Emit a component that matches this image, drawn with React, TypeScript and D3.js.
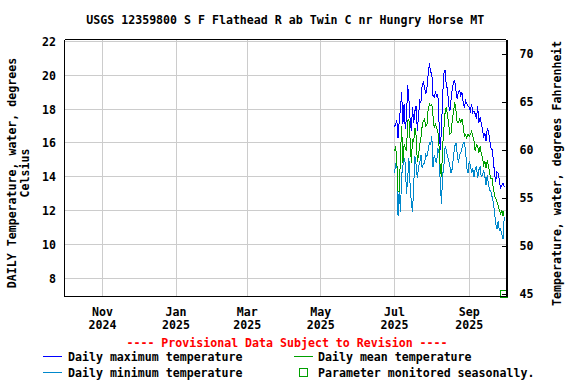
import React from "react";
import * as d3 from "d3";

// Chart text
const title = "USGS 12359800 S F Flathead R ab Twin C nr Hungry Horse MT";
const provisionalNote = "---- Provisional Data Subject to Revision ----";
const leftAxisTitle = ["DAILY Temperature, water, degrees", "Celsius"];
const rightAxisTitle = "Temperature, water, degrees Fahrenheit";

// Daily values, one per day starting Jul 1 2025 (deg C)
const firstDay = new Date(2025, 6, 1);

const dailyMax = [
  16.95, 17.1, 17.35, 16.3, 17.3, 18.0, 19.0, 17.1, 18.3, 16.8,
  17.5, 19.4, 18.6, 17.4, 16.7, 18.1, 17.2, 17.9, 18.2, 16.7,
  17.6, 18.5, 18.4, 19.4, 19.6, 19.3, 18.9, 19.3, 20.1, 20.7,
  20.2, 20.1, 18.8, 18.7, 19.0, 18.8, 18.9, 17.2, 15.6, 16.8,
  18.8, 20.1, 20.3, 19.4, 19.2, 18.2, 17.9, 18.6, 19.2, 19.6,
  19.7, 19.1, 18.6, 19.0, 19.1, 18.8, 19.0, 18.4, 18.1, 18.5,
  18.3, 18.2, 18.1, 17.9, 18.3, 17.8, 17.9, 17.7, 17.4, 18.2,
  17.2, 17.5, 17.2, 16.8, 16.3, 16.6, 16.1, 16.9, 16.7, 16.2,
  15.7, 15.6, 15.0, 14.2, 13.7, 14.3, 14.2, 13.8, 13.3, 13.5,
  13.6, 13.4,
];

const dailyMean = [
  15.5, 15.8, 14.9, 13.1, 13.1, 15.2, 17.0, 14.8, 15.9, 15.7,
  15.5, 17.3, 17.4, 16.2, 14.8, 16.2, 16.1, 16.9, 16.4, 14.9,
  15.3, 15.9, 16.3, 17.0, 17.3, 17.4, 17.0, 17.1, 18.0, 18.3,
  18.2, 18.3, 17.6, 16.9, 17.1, 16.9, 16.7, 15.8, 14.5, 14.0,
  15.8, 16.8, 17.8, 18.1, 17.6, 17.1, 16.5, 16.6, 17.4, 17.8,
  18.4, 17.9, 17.2, 17.2, 17.4, 17.2, 17.4, 17.0, 16.4, 16.5,
  16.3, 16.5, 16.4, 16.5, 16.7, 16.4, 16.1, 15.5, 15.9, 15.8,
  15.4, 15.8, 15.4, 15.1, 14.7, 14.9, 14.5, 15.0, 14.6, 14.2,
  13.9, 13.9, 13.3, 12.9, 12.7, 12.5, 12.3, 12.0, 11.8, 12.0,
  11.7, 12.0,
];

const dailyMin = [
  14.2, 14.7, 15.0, 11.7, 13.3, 11.9, 14.1, 14.6, 15.1, 14.8,
  13.0, 13.9, 15.1, 13.5, 12.5, 11.9, 13.5, 15.2, 14.7, 13.9,
  14.6, 14.8, 15.3, 14.5, 14.8, 14.8, 15.3, 15.2, 15.6, 16.0,
  15.9, 16.4, 14.6, 15.3, 15.0, 14.8, 15.7, 15.4, 13.6, 12.4,
  14.1, 14.6, 15.8, 15.6, 15.2, 15.0, 14.6, 14.2, 14.5, 15.2,
  15.8, 16.0, 15.4, 14.8, 15.3, 15.4, 15.7, 16.0, 16.0, 15.5,
  14.5, 14.2, 14.9, 14.7, 14.2, 14.5, 14.0, 14.5, 14.6, 13.9,
  14.4, 14.6, 14.0, 14.1, 14.4, 14.0, 13.5, 14.1, 13.5, 13.2,
  13.1, 12.8, 12.5, 11.9, 11.2, 10.9, 11.4, 10.8, 10.9, 10.6,
  10.3, 11.6,
];

// Axes
const celsiusTicks = [8, 10, 12, 14, 16, 18, 20, 22];
const fahrenheitTicks = [45, 50, 55, 60, 65, 70];
const monthTicks = [
  new Date(2024, 10, 1),
  new Date(2025, 0, 1),
  new Date(2025, 2, 1),
  new Date(2025, 4, 1),
  new Date(2025, 6, 1),
  new Date(2025, 8, 1),
];
const timeDomain = [new Date(2024, 8, 30, 12), new Date(2025, 9, 1, 12)];
const celsiusDomain = [6.91, 22.12];
const fahrenheitDomain = [44.75, 71.56];

const COLORS = {
  max: "#0000ff",
  mean: "#00a000",
  min: "#0088cc",
  grid: "#cccccc",
  red: "#ff0000",
};

const FONT = "'DejaVu Sans Mono', 'Liberation Mono', monospace";
const FS = 11.6;

export default function App() {
  const W = 576;
  const H = 384;
  const plot = { left: 64.5, right: 506, top: 39.5, bottom: 296.5 };

  const x = d3.scaleTime().domain(timeDomain).range([plot.left, plot.right]);
  const y = d3.scaleLinear().domain(celsiusDomain).range([plot.bottom, plot.top]);
  const yF = d3
    .scaleLinear()
    .domain(fahrenheitDomain)
    .range([plot.bottom, plot.top]);

  const toSeries = (vals: number[]) =>
    vals.map((v, i) => ({ date: d3.timeDay.offset(firstDay, i), value: v }));

  const line = d3
    .line<{ date: Date; value: number }>()
    .x((d) => x(d.date))
    .y((d) => y(d.value));

  const series = [
    { key: "min", color: COLORS.min, values: dailyMin },
    { key: "mean", color: COLORS.mean, values: dailyMean },
    { key: "max", color: COLORS.max, values: dailyMax },
  ];

  const lastDay = d3.timeDay.offset(firstDay, dailyMax.length - 1);
  const cx = (plot.left + plot.right) / 2;
  const fmtMonth = d3.timeFormat("%b");
  const fmtYear = d3.timeFormat("%Y");

  const textProps = {
    fontFamily: FONT,
    fontSize: FS,
    fontWeight: "bold" as const,
    fill: "#000",
  };

  return (
    <svg
      width={W}
      height={H}
      viewBox={`0 0 ${W} ${H}`}
      style={{ position: "absolute", left: 0, top: 0, display: "block", background: "#fff" }}
    >
      <rect width={W} height={H} fill="#fff" />

      {/* title */}
      <text {...textProps} x={cx} y={24} textAnchor="middle">
        {title}
      </text>

      {/* grid */}
      <g shapeRendering="crispEdges" stroke={COLORS.grid} strokeWidth={1}>
        {celsiusTicks.map((t) => (
          <line key={"h" + t} x1={plot.left} x2={plot.right} y1={y(t)} y2={y(t)} />
        ))}
        {monthTicks.map((d, i) => (
          <line key={"v" + i} x1={x(d)} x2={x(d)} y1={plot.top} y2={plot.bottom} />
        ))}
      </g>

      {/* data */}
      <g fill="none" strokeWidth={1} shapeRendering="crispEdges">
        {series.map((s) => (
          <path key={s.key} d={line(toSeries(s.values)) ?? undefined} stroke={s.color} />
        ))}
      </g>

      {/* seasonal marker */}
      <rect
        x={x(lastDay) - 3.5}
        y={plot.bottom - 6.5}
        width={7}
        height={7}
        fill="none"
        stroke={COLORS.mean}
        strokeWidth={1}
        shapeRendering="crispEdges"
      />

      {/* frame */}
      <g shapeRendering="crispEdges" stroke="#000" fill="none">
        <line x1={plot.left} x2={plot.right} y1={plot.top} y2={plot.top} />
        <line x1={plot.left} x2={plot.right} y1={plot.bottom} y2={plot.bottom} />
        <line x1={plot.left} x2={plot.left} y1={plot.top} y2={plot.bottom} />
        <line
          x1={plot.right + 0.5}
          x2={plot.right + 0.5}
          y1={plot.top}
          y2={plot.bottom}
          strokeWidth={2}
        />
        {fahrenheitTicks.map((t) => (
          <line key={"rt" + t} x1={plot.right - 4} x2={plot.right} y1={yF(t)} y2={yF(t)} />
        ))}
      </g>

      {/* left tick labels */}
      {celsiusTicks.map((t) => (
        <text key={"lt" + t} {...textProps} x={56} y={y(t) + 4.5} textAnchor="end">
          {t}
        </text>
      ))}

      {/* right tick labels */}
      {fahrenheitTicks.map((t) => (
        <text key={"rl" + t} {...textProps} x={519.5} y={yF(t) + 4} textAnchor="start">
          {t}
        </text>
      ))}

      {/* bottom tick labels */}
      {monthTicks.map((d, i) => (
        <g key={"bl" + i}>
          <text {...textProps} x={x(d)} y={316} textAnchor="middle">
            {fmtMonth(d)}
          </text>
          <text {...textProps} x={x(d)} y={328.5} textAnchor="middle">
            {fmtYear(d)}
          </text>
        </g>
      ))}

      {/* axis titles */}
      <text
        {...textProps}
        textAnchor="middle"
        transform={`translate(15.5, 173) rotate(-90)`}
      >
        {leftAxisTitle[0]}
      </text>
      <text
        {...textProps}
        textAnchor="middle"
        transform={`translate(28.5, 173) rotate(-90)`}
      >
        {leftAxisTitle[1]}
      </text>
      <text
        {...textProps}
        textAnchor="middle"
        transform={`translate(561, 173.3) rotate(-90)`}
      >
        {rightAxisTitle}
      </text>

      {/* provisional note */}
      <text {...textProps} fill={COLORS.red} x={287} y={347} textAnchor="middle">
        {provisionalNote}
      </text>

      {/* legend */}
      <g shapeRendering="crispEdges">
        <line x1={43} x2={62} y1={356.5} y2={356.5} stroke={COLORS.max} />
        <text {...textProps} x={68} y={361}>
          Daily maximum temperature
        </text>
        <line x1={294} x2={313} y1={356.5} y2={356.5} stroke={COLORS.mean} />
        <text {...textProps} x={318} y={361}>
          Daily mean temperature
        </text>
        <line x1={43} x2={62} y1={372.5} y2={372.5} stroke={COLORS.min} />
        <text {...textProps} x={68} y={377}>
          Daily minimum temperature
        </text>
        <rect
          x={299.5}
          y={368.5}
          width={8}
          height={8}
          fill="none"
          stroke={COLORS.mean}
        />
        <text {...textProps} x={318} y={377}>
          Parameter monitored seasonally.
        </text>
      </g>
    </svg>
  );
}
